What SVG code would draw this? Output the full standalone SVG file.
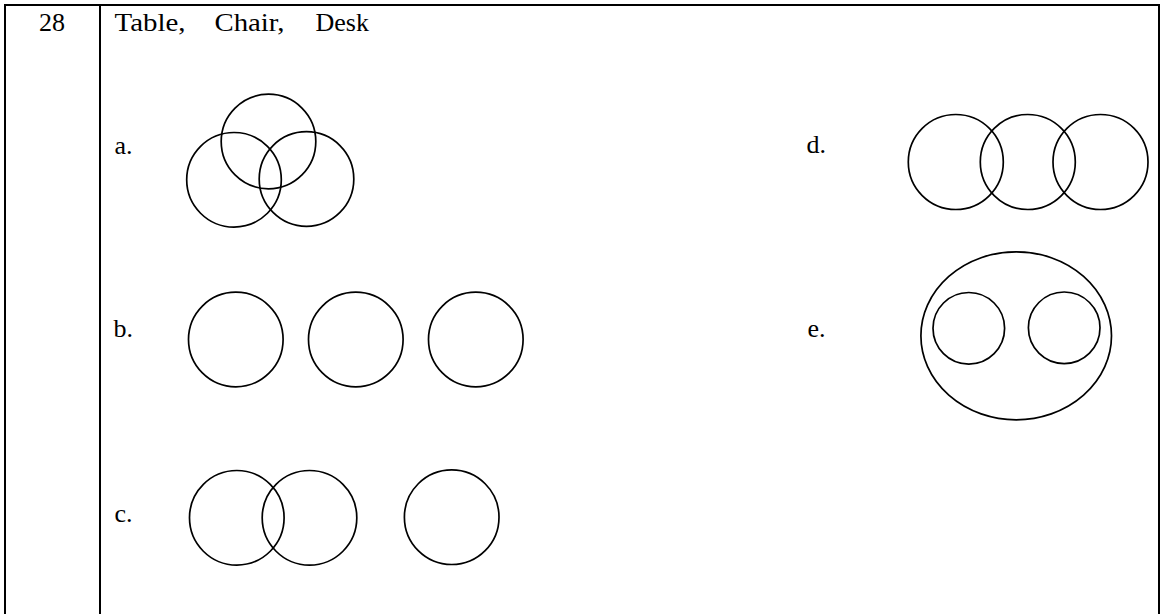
<svg xmlns="http://www.w3.org/2000/svg" width="1163" height="614" viewBox="0 0 1163 614">
<style>
.t{font-family:"Liberation Serif","Times New Roman",serif;font-size:26px;fill:#000}
.c{fill:none;stroke:#000;stroke-width:1.7}
.b{stroke:#000;stroke-width:2;fill:none}
</style>
<rect width="1163" height="614" fill="#fff"/>
<g id="table">
<line class="b" x1="4" y1="5" x2="1160" y2="5"/>
<line class="b" x1="5" y1="4" x2="5" y2="614"/>
<line class="b" x1="100" y1="4" x2="100" y2="614"/>
<line class="b" x1="1159" y1="4" x2="1159" y2="614"/>
</g>
<g id="header">
<text class="t" x="39" y="31">28</text>
<text class="t" x="114.5" y="31" textLength="71" lengthAdjust="spacingAndGlyphs">Table,</text>
<text class="t" x="214.5" y="31" textLength="70" lengthAdjust="spacingAndGlyphs">Chair,</text>
<text class="t" x="315.5" y="31" textLength="53.5" lengthAdjust="spacingAndGlyphs">Desk</text>
</g>
<g id="option-a">
<text class="t" x="114.5" y="153.5">a.</text>
<circle class="c" cx="268.5" cy="141.5" r="47.3"/>
<circle class="c" cx="234" cy="179.8" r="47.3"/>
<circle class="c" cx="306.5" cy="179" r="47.3"/>
</g>
<g id="option-b">
<text class="t" x="113.5" y="337">b.</text>
<circle class="c" cx="235.8" cy="339.5" r="47.3"/>
<circle class="c" cx="355.8" cy="339.5" r="47.3"/>
<circle class="c" cx="475.8" cy="339.5" r="47.3"/>
</g>
<g id="option-c">
<text class="t" x="114.5" y="521.7">c.</text>
<circle class="c" cx="236.8" cy="517.8" r="47.3"/>
<circle class="c" cx="309.5" cy="517.8" r="47.3"/>
<circle class="c" cx="451.7" cy="517.2" r="47.3"/>
</g>
<g id="option-d">
<text class="t" x="806.5" y="153.3">d.</text>
<circle class="c" cx="955.8" cy="162" r="47.5"/>
<circle class="c" cx="1027.8" cy="162" r="47.5"/>
<circle class="c" cx="1100.5" cy="162" r="47.5"/>
</g>
<g id="option-e">
<text class="t" x="807.5" y="337.3">e.</text>
<ellipse class="c" cx="1016.2" cy="335.8" rx="95.3" ry="84"/>
<circle class="c" cx="968.8" cy="328.3" r="35.8"/>
<circle class="c" cx="1064.2" cy="327.8" r="35.8"/>
</g>
</svg>
